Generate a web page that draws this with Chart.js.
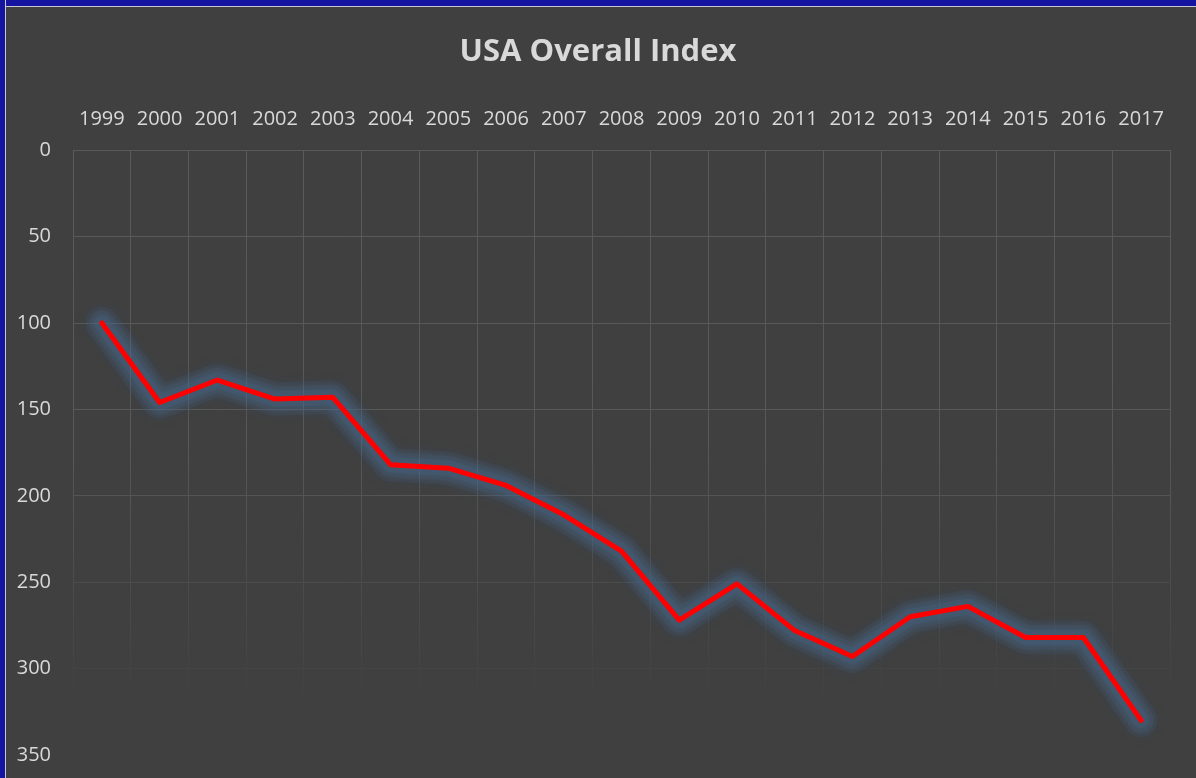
<!DOCTYPE html>
<html>
<head>
<meta charset="utf-8">
<script src="https://cdn.jsdelivr.net/npm/chart.js@4.4.1/dist/chart.umd.min.js"></script>
<style>
  html, body { margin: 0; padding: 0; background: #404040; overflow: hidden; }
  #wrap { position: absolute; left: 0; top: 0; width: 1196px; height: 778px; }
  #edgeTop { position: absolute; left: 0; top: 0; width: 1196px; height: 6px; background: #1414a0; border-bottom: 1px solid #c8c8d0; }
  #edgeLeft { position: absolute; left: 0; top: 0; width: 5px; height: 778px; background: #1414a0; border-right: 1px solid #c8c8d0; }
</style>
</head>
<body>
<div id="wrap"><canvas id="indexChart" width="1196" height="778"></canvas></div>
<div id="edgeTop"></div>
<div id="edgeLeft"></div>
<script>
// Dados do gráfico
const years = ['1999', '2000', '2001', '2002', '2003', '2004', '2005', '2006', '2007', '2008',
               '2009', '2010', '2011', '2012', '2013', '2014', '2015', '2016', '2017'];
const overallIndex = [100, 146, 133, 144, 143, 182, 184, 194, 211, 232,
                      272, 251, 278, 293, 270, 264, 282, 282, 330];
const yTicks = [0, 50, 100, 150, 200, 250, 300, 350];

const textColor = '#d9d9d9';
const baseFont = "'Open Sans', 'Noto Sans', sans-serif";

// cor da grade que some perto do fundo
function fadeGrid(y, area) {
    if (!area) return '#595959';
    const t = (y - area.top) / (area.bottom - area.top);
    let a = 1;
    if (t > 0.5) a = Math.max(0, 1 - (t - 0.5) / 0.42);
    const c = Math.round(64 + (89 - 64) * a);
    return 'rgb(' + c + ',' + c + ',' + c + ')';
}

let vGrad = null;
function verticalGridColor(ctx) {
    const chart = ctx.chart;
    const area = chart.chartArea;
    if (!area) return '#595959';
    if (!vGrad) {
        vGrad = chart.ctx.createLinearGradient(0, area.top, 0, area.bottom);
        vGrad.addColorStop(0, '#5a5a5a');
        vGrad.addColorStop(0.5, '#585858');
        vGrad.addColorStop(0.92, '#404040');
        vGrad.addColorStop(1, '#404040');
    }
    return vGrad;
}

// brilho azul em volta da linha (datasets 1..3 = camadas do brilho)
const glowPlugin = {
    id: 'glow',
    beforeDatasetDraw(chart, args) {
        const ctx = chart.ctx;
        ctx.save();
        if (args.index > 0) {
            ctx.shadowColor = 'rgba(75, 115, 155, 1)';
            ctx.shadowBlur = 12;
        }
    },
    afterDatasetDraw(chart) {
        chart.ctx.restore();
    }
};

function glowLayer(width, alpha) {
    return {
        label: 'glow',
        data: overallIndex,
        borderColor: 'rgba(70, 105, 140, ' + alpha + ')',
        borderWidth: width,
        pointRadius: 0,
        borderJoinStyle: 'round',
        borderCapStyle: 'round',
        tension: 0
    };
}

const chartCtx = document.getElementById('indexChart').getContext('2d');
const indexChart = new Chart(chartCtx, {
    type: 'line',
    data: {
        labels: years,
        datasets: [{
            label: 'USA Overall Index',
            data: overallIndex,
            borderColor: '#ff0000',
            borderWidth: 5,
            pointRadius: 0,
            borderJoinStyle: 'round',
            borderCapStyle: 'round',
            tension: 0
        },
        glowLayer(16, 0.2),
        glowLayer(25, 0.14),
        glowLayer(34, 0.09)]
    },
    options: {
        responsive: false,
        animation: false,
        layout: {
            padding: { left: 0, right: 0, top: 0, bottom: 23 }
        },
        plugins: {
            legend: { display: false },
            tooltip: { enabled: false },
            title: {
                display: true,
                text: 'USA Overall Index',
                color: textColor,
                font: { family: baseFont, size: 31, weight: 'bold' },
                padding: { top: 34, bottom: 20 }
            }
        },
        scales: {
            x: {
                position: 'top',
                offset: true,
                afterFit(scale) { scale.height = 59; },
                grid: {
                    offset: true,
                    drawTicks: false,
                    color: verticalGridColor,
                    lineWidth: 1
                },
                border: { display: false },
                ticks: {
                    color: textColor,
                    font: { family: baseFont, size: 20 },
                    padding: 19,
                    maxRotation: 0,
                    autoSkip: false
                }
            },
            y: {
                reverse: true,
                min: 0,
                max: 350,
                afterFit(scale) {
                    scale.width = 73;
                    scale.paddingTop = 0;
                    scale.paddingBottom = 0;
                },
                afterBuildTicks(scale) {
                    scale.ticks = yTicks.map(v => ({ value: v }));
                },
                grid: {
                    drawTicks: false,
                    color: ctx => fadeGrid(ctx.scale.getPixelForValue(ctx.tick.value), ctx.chart.chartArea),
                    lineWidth: 1
                },
                border: { display: false },
                ticks: {
                    color: textColor,
                    font: { family: baseFont, size: 20 },
                    padding: 22
                }
            },
            // margem vazia à direita
            yRight: {
                position: 'right',
                display: true,
                afterFit(scale) {
                    scale.width = 26;
                    scale.paddingTop = 0;
                    scale.paddingBottom = 0;
                },
                grid: { display: false },
                border: { display: false },
                ticks: { display: false }
            }
        }
    },
    plugins: [glowPlugin]
});
</script>
</body>
</html>
